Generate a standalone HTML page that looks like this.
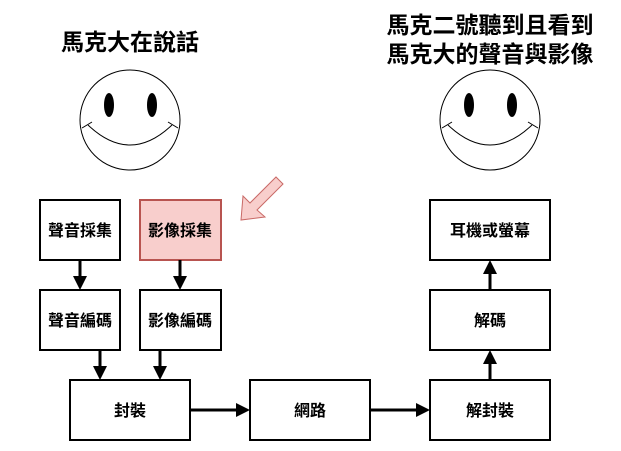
<!DOCTYPE html>
<html><head><meta charset="utf-8"><style>
html,body{margin:0;padding:0;background:#fff;}
svg{display:block;}
text{font-family:"Liberation Sans","Noto Sans CJK TC",sans-serif;}
</style></head><body>
<svg width="621" height="451" viewBox="0 0 621 451" xmlns="http://www.w3.org/2000/svg">
<g font-weight="bold" font-size="23" text-anchor="middle" fill="#000">
<text x="130" y="50">馬克大在說話</text>
<text x="490" y="33">馬克二號聽到且看到</text>
<text x="490" y="62">馬克大的聲音與影像</text>
</g>
<g fill="none" stroke="#000" stroke-width="1">
<circle cx="130" cy="120" r="50"/>
<path d="M88,125 Q130,165 172,125"/>
<path d="M82,128 L92,122 M168,122 L178,128"/>
<circle cx="490" cy="120" r="50"/>
<path d="M448,125 Q490,165 532,125"/>
<path d="M442,128 L452,122 M528,122 L538,128"/>
</g>
<g fill="#000">
<ellipse cx="109" cy="105" rx="5" ry="12"/>
<ellipse cx="152" cy="105" rx="5" ry="12"/>
<ellipse cx="469" cy="105" rx="5" ry="12"/>
<ellipse cx="512" cy="105" rx="5" ry="12"/>
</g>
<polygon points="241,220 243,196 250,203 276,177 283,184 257,210 265,217" fill="#f8cecc" stroke="#c96966" stroke-width="1"/>
<g stroke="#000" stroke-width="2" fill="#fff">
<rect x="40" y="200" width="80" height="60"/>
<rect x="140" y="200" width="81" height="60" fill="#f8cecc" stroke="#b85450"/>
<rect x="40" y="290" width="80" height="60"/>
<rect x="140" y="290" width="81" height="60"/>
<rect x="70" y="380" width="120" height="60"/>
<rect x="250" y="380" width="120" height="60"/>
<rect x="430" y="380" width="120" height="60"/>
<rect x="430" y="290" width="120" height="60"/>
<rect x="430" y="200" width="120" height="60"/>
</g>
<g stroke="#000" stroke-width="3" fill="none">
<line x1="80" y1="260" x2="80" y2="280"/>
<line x1="180" y1="260" x2="180" y2="280"/>
<line x1="100" y1="350" x2="100" y2="370"/>
<line x1="160" y1="350" x2="160" y2="370"/>
<line x1="190" y1="410" x2="238" y2="410"/>
<line x1="370" y1="410" x2="418" y2="410"/>
<line x1="490" y1="380" x2="490" y2="362"/>
<line x1="490" y1="290" x2="490" y2="272"/>
</g>
<g fill="#000">
<polygon points="73,276 87,276 80,290"/>
<polygon points="173,276 187,276 180,290"/>
<polygon points="93,366 107,366 100,380"/>
<polygon points="153,366 167,366 160,380"/>
<polygon points="236,403 236,417 250,410"/>
<polygon points="416,403 416,417 430,410"/>
<polygon points="483,364 497,364 490,350"/>
<polygon points="483,274 497,274 490,260"/>
</g>
<g font-size="16" font-weight="bold" text-anchor="middle" fill="#000">
<text x="80" y="236">聲音採集</text>
<text x="180" y="236">影像採集</text>
<text x="80" y="326">聲音編碼</text>
<text x="180" y="326">影像編碼</text>
<text x="130" y="416">封裝</text>
<text x="310" y="416">網路</text>
<text x="490" y="416">解封裝</text>
<text x="490" y="326">解碼</text>
<text x="490" y="236">耳機或螢幕</text>
</g>
</svg>
</body></html>
